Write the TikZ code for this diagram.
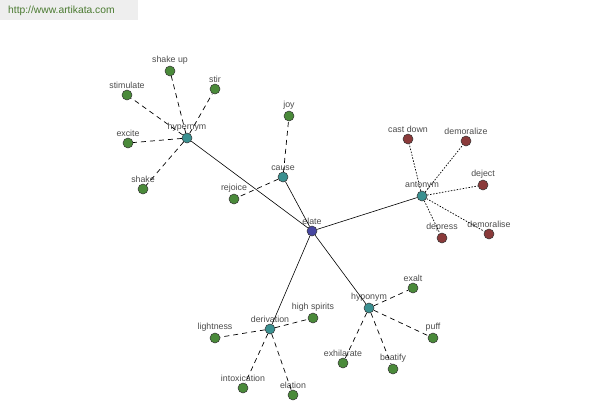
\documentclass[tikz,border=0pt]{standalone}
\usepackage{fontspec}
\setmainfont{Liberation Sans}
\definecolor{cgreen}{HTML}{4A8A3A}
\definecolor{cteal}{HTML}{3A9090}
\definecolor{cred}{HTML}{8A3A3A}
\definecolor{cblue}{HTML}{4646A0}
\definecolor{hdrtext}{HTML}{4A7A30}
\definecolor{hdrbg}{HTML}{EEEEEE}
\tikzset{
  dot/.style={circle,draw=black!80,line width=0.5pt,minimum size=10pt,inner sep=0pt},
  leaf/.style={dot,fill=cgreen},
  rel/.style={dot,fill=cteal},
  anto/.style={dot,fill=cred},
  root/.style={dot,fill=cblue},
  lbl/.style={font=\fontsize{8.8}{10}\selectfont,text=black!70,inner sep=0.8pt},
  main/.style={draw=black,line width=0.6pt},
  dsh/.style={draw=black,line width=0.7pt,dash pattern=on 5pt off 4pt},
  dtt/.style={draw=black,line width=0.7pt,dash pattern=on 1.5pt off 1.5pt},
}
\begin{document}
\begin{tikzpicture}[x=1pt,y=-1pt]
\useasboundingbox[fill=white] (0,0) rectangle (600,400);
\fill[hdrbg] (0,0) rectangle (138,20);
\node[anchor=west,text=hdrtext,font=\fontsize{10.3}{11}\selectfont,inner sep=0pt] (hdr) at (8,11) {http://www.artikata.com};
% nodes
\node[root,label={[lbl]above:elate}] (elate) at (312,231) {};
\node[rel,label={[lbl]above:hypernym}] (hyper) at (187,138) {};
\node[rel,label={[lbl]above:cause}] (cause) at (283,177) {};
\node[rel,label={[lbl]above:antonym}] (anto) at (422,196) {};
\node[rel,label={[lbl]above:derivation}] (deriv) at (270,329) {};
\node[rel,label={[lbl]above:hyponym}] (hypo) at (369,308) {};
% hypernym leaves
\node[leaf,label={[lbl]above:shake up}] (shakeup) at (170,71) {};
\node[leaf,label={[lbl]above:stir}] (stir) at (215,89) {};
\node[leaf,label={[lbl]above:stimulate}] (stim) at (127,95) {};
\node[leaf,label={[lbl]above:excite}] (excite) at (128,143) {};
\node[leaf,label={[lbl]above:shake}] (shake) at (143,189) {};
% cause leaves
\node[leaf,label={[lbl]above:joy}] (joy) at (289,116) {};
\node[leaf,label={[lbl]above:rejoice}] (rejoice) at (234,199) {};
% antonym leaves
\node[anto,label={[lbl]above:cast down}] (castdown) at (408,139) {};
\node[anto,label={[lbl]above:demoralize}] (demz) at (466,141) {};
\node[anto,label={[lbl]above:deject}] (deject) at (483,185) {};
\node[anto,label={[lbl]above:depress}] (depress) at (442,238) {};
\node[anto,label={[lbl]above:demoralise}] (dems) at (489,234) {};
% derivation leaves
\node[leaf,label={[lbl]above:high spirits}] (high) at (313,318) {};
\node[leaf,label={[lbl]above:lightness}] (light) at (215,338) {};
\node[leaf,label={[lbl]above:intoxication}] (intox) at (243,388) {};
\node[leaf,label={[lbl]above:elation}] (elation) at (293,395) {};
% hyponym leaves
\node[leaf,label={[lbl]above:exalt}] (exalt) at (413,288) {};
\node[leaf,label={[lbl]above:puff}] (puff) at (433,338) {};
\node[leaf,label={[lbl]above:beatify}] (beatify) at (393,369) {};
\node[leaf,label={[lbl]above:exhilarate}] (exhil) at (343,363) {};
% edges
\path[main] (elate) -- (hyper) (elate) -- (cause) (elate) -- (anto) (elate) -- (deriv) (elate) -- (hypo);
\path[dsh] (hyper) -- (shakeup) (hyper) -- (stir) (hyper) -- (stim) (hyper) -- (excite) (hyper) -- (shake);
\path[dsh] (cause) -- (joy) (cause) -- (rejoice);
\path[dtt] (anto) -- (castdown) (anto) -- (demz) (anto) -- (deject) (anto) -- (depress) (anto) -- (dems);
\path[dsh] (deriv) -- (high) (deriv) -- (light) (deriv) -- (intox) (deriv) -- (elation);
\path[dsh] (hypo) -- (exalt) (hypo) -- (puff) (hypo) -- (beatify) (hypo) -- (exhil);
\end{tikzpicture}
\end{document}
